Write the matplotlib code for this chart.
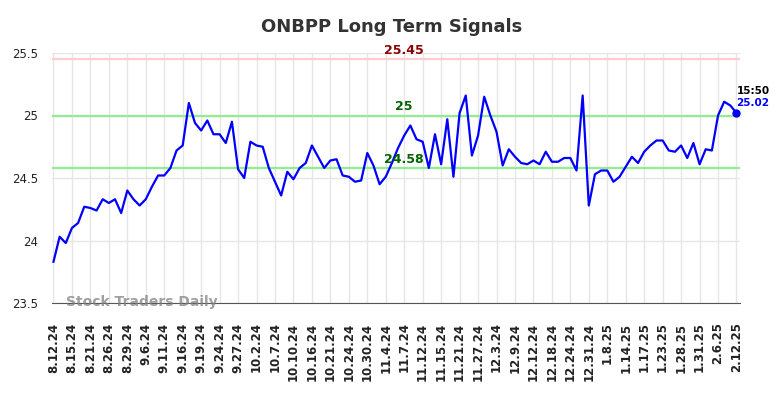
import numpy as np
import matplotlib
matplotlib.use("Agg")
import matplotlib.pyplot as plt

# closing prices, one per trading day shown
prices = [
    23.83, 24.03, 23.98, 24.10, 24.14, 24.27, 24.26, 24.24, 24.33, 24.30,
    24.33, 24.22, 24.40, 24.33, 24.28, 24.33, 24.43, 24.52, 24.52, 24.58,
    24.72, 24.76, 25.10, 24.94, 24.88, 24.96, 24.85, 24.85, 24.78, 24.95,
    24.57, 24.50, 24.79, 24.76, 24.75, 24.58, 24.47, 24.36, 24.55, 24.49,
    24.58, 24.62, 24.76, 24.67, 24.58, 24.64, 24.65, 24.52, 24.51, 24.47,
    24.48, 24.70, 24.60, 24.45, 24.51, 24.62, 24.74, 24.84, 24.92, 24.81,
    24.79, 24.58, 24.85, 24.61, 24.97, 24.51, 25.02, 25.16, 24.68, 24.84,
    25.15, 25.00, 24.87, 24.60, 24.73, 24.67, 24.62, 24.61, 24.64, 24.61,
    24.71, 24.63, 24.63, 24.66, 24.66, 24.56, 25.16, 24.28, 24.53, 24.56,
    24.56, 24.47, 24.51, 24.59, 24.67, 24.62, 24.71, 24.76, 24.80, 24.80,
    24.72, 24.71, 24.76, 24.66, 24.78, 24.61, 24.73, 24.72, 25.00, 25.11,
    25.08, 25.02,
]

tick_labels = [
    "8.12.24", "8.15.24", "8.21.24", "8.26.24", "8.29.24", "9.6.24",
    "9.11.24", "9.16.24", "9.19.24", "9.24.24", "9.27.24", "10.2.24",
    "10.7.24", "10.10.24", "10.16.24", "10.21.24", "10.24.24", "10.30.24",
    "11.4.24", "11.7.24", "11.12.24", "11.15.24", "11.21.24", "11.27.24",
    "12.3.24", "12.9.24", "12.12.24", "12.18.24", "12.24.24", "12.31.24",
    "1.8.25", "1.14.25", "1.17.25", "1.23.25", "1.28.25", "1.31.25",
    "2.6.25", "2.12.25",
]

resistance = 25.45
mid_level = 25.0
support = 24.58
last_time = "15:50"

x = np.arange(len(prices))

fig = plt.figure(figsize=(7.84, 3.98), dpi=100)
ax = fig.add_axes([52 / 784, 1 - 303 / 398, (740 - 52) / 784, (303 - 53) / 398])

ax.plot(x, prices, color="blue", lw=1.6, zorder=3)
ax.plot(x[-1], prices[-1], "o", color="blue", ms=5, zorder=4)

ax.axhline(resistance, color="#ffcccc", lw=1.6, zorder=2)
ax.axhline(mid_level, color="#90ee90", lw=1.6, zorder=2)
ax.axhline(support, color="#90ee90", lw=1.6, zorder=2)

mid_x = 57
ax.text(mid_x, resistance + 0.02, f"{resistance:g}", color="darkred",
        fontsize=9, fontweight="bold", ha="center", va="bottom")
ax.text(mid_x, mid_level + 0.02, f"{mid_level:g}", color="darkgreen",
        fontsize=9, fontweight="bold", ha="center", va="bottom")
ax.text(mid_x, support + 0.02, f"{support:g}", color="darkgreen",
        fontsize=9, fontweight="bold", ha="center", va="bottom")

ax.text(x[-1], prices[-1] + 0.14, last_time, color="black", fontsize=7.5,
        fontweight="bold", ha="left", va="bottom")
ax.text(x[-1], prices[-1] + 0.04, f"{prices[-1]:.2f}", color="blue",
        fontsize=7.5, fontweight="bold", ha="left", va="bottom")

ax.text(2, 23.478, "Stock Traders Daily", color="gray", alpha=0.75,
        fontsize=10, fontweight="bold", ha="left", va="baseline")

ax.set_xlim(-0.24, len(prices) - 1 + 0.57)
ax.set_ylim(23.5, 25.5)
ax.set_yticks([23.5, 24, 24.5, 25, 25.5])
ax.set_yticklabels(["23.5", "24", "24.5", "25", "25.5"])
ax.set_xticks(x[::3])
ax.set_xticklabels(tick_labels, rotation=90, fontweight="bold")
ax.tick_params(axis="both", length=0, labelsize=8.5, colors="#222222")
ax.tick_params(axis="y", pad=10)
ax.tick_params(axis="x", pad=14)

ax.grid(True, color="#e6e6e6", lw=1)
ax.set_axisbelow(True)
for side in ["left", "right", "top"]:
    ax.spines[side].set_visible(False)
ax.spines["bottom"].set_color("#555555")

fig.suptitle("ONBPP Long Term Signals", x=0.5, y=0.955, fontsize=13,
             fontweight="bold", color="#333333")

fig.savefig("out.png", dpi=100)
